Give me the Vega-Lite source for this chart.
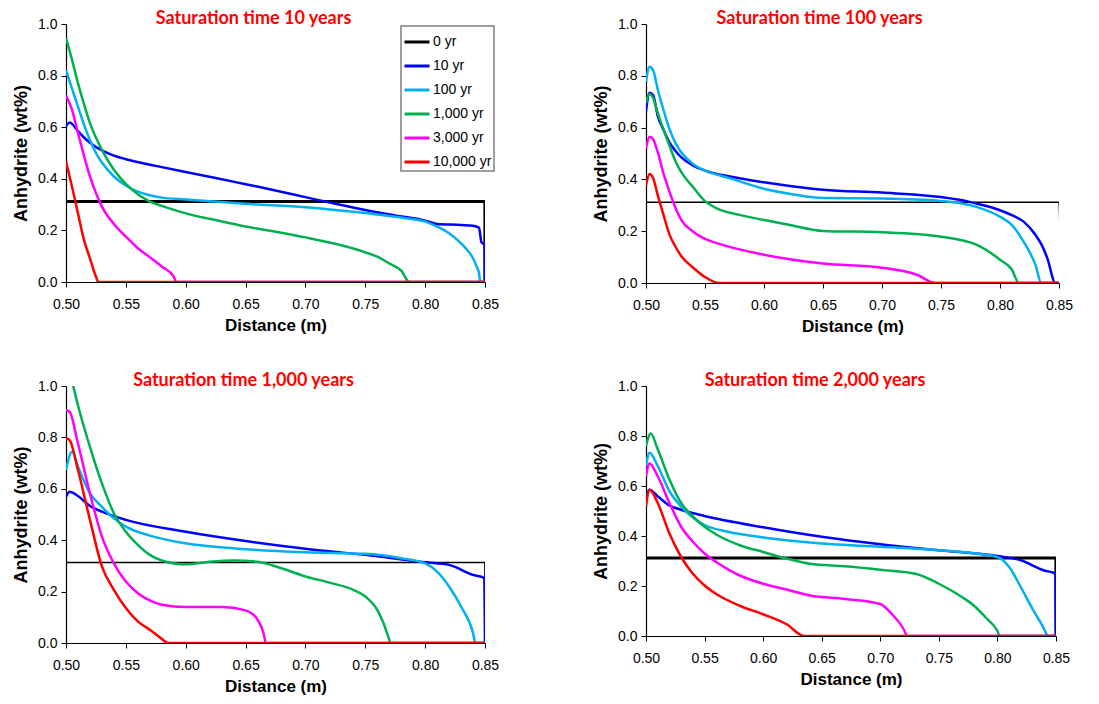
{
  "$schema": "https://vega.github.io/schema/vega-lite/v6.json",
  "padding": {"left": 12, "top": 10, "right": 5, "bottom": 5},
  "background": "white",
  "config": {
    "view": {"stroke": null},
    "axis": {"grid": false, "labelFont": "Liberation Sans", "labelFontSize": 14, "labelColor": "#000000", "titleFont": "Liberation Sans", "titleFontSize": 17, "titleFontWeight": "bold", "titleColor": "#000000", "domainColor": "#000000", "tickColor": "#000000", "tickSize": 5, "labelFlush": false, "labelOverlap": false, "domainWidth": 1.2},
    "axisX": {"labelPadding": 10, "titlePadding": 6},
    "axisY": {"labelPadding": 4, "titlePadding": 7, "titleFontSize": 18},
    "title": {"font": "Lato", "fontSize": 18, "fontWeight": "bold", "color": "#FF0000", "anchor": "middle", "offset": -11},
    "legend": {"orient": "none", "legendX": 335, "legendY": 2, "strokeColor": "#808080", "strokeWidth": 1.5, "fillColor": "#FFFFFF", "padding": 2, "symbolType": "stroke", "symbolSize": 625, "symbolStrokeWidth": 3, "labelFont": "Liberation Sans", "labelFontSize": 14, "labelColor": "#000000", "rowPadding": 3, "labelOffset": 2}
  },
  "datasets": {
    "d": [
      {"panel":1,"series":"0 yr","distance":0.5,"anhydrite":0.312},
      {"panel":1,"series":"0 yr","distance":0.8499,"anhydrite":0.312},
      {"panel":1,"series":"0 yr","distance":0.85,"anhydrite":0},
      {"panel":1,"series":"10 yr","distance":0.5,"anhydrite":0.603},
      {"panel":1,"series":"10 yr","distance":0.503,"anhydrite":0.618},
      {"panel":1,"series":"10 yr","distance":0.51,"anhydrite":0.585},
      {"panel":1,"series":"10 yr","distance":0.515,"anhydrite":0.56},
      {"panel":1,"series":"10 yr","distance":0.52,"anhydrite":0.54},
      {"panel":1,"series":"10 yr","distance":0.53,"anhydrite":0.51},
      {"panel":1,"series":"10 yr","distance":0.54,"anhydrite":0.49},
      {"panel":1,"series":"10 yr","distance":0.55,"anhydrite":0.476},
      {"panel":1,"series":"10 yr","distance":0.575,"anhydrite":0.45},
      {"panel":1,"series":"10 yr","distance":0.6,"anhydrite":0.426},
      {"panel":1,"series":"10 yr","distance":0.625,"anhydrite":0.403},
      {"panel":1,"series":"10 yr","distance":0.65,"anhydrite":0.379},
      {"panel":1,"series":"10 yr","distance":0.675,"anhydrite":0.355},
      {"panel":1,"series":"10 yr","distance":0.7,"anhydrite":0.329},
      {"panel":1,"series":"10 yr","distance":0.725,"anhydrite":0.303},
      {"panel":1,"series":"10 yr","distance":0.75,"anhydrite":0.279},
      {"panel":1,"series":"10 yr","distance":0.775,"anhydrite":0.258},
      {"panel":1,"series":"10 yr","distance":0.8,"anhydrite":0.238},
      {"panel":1,"series":"10 yr","distance":0.81,"anhydrite":0.225},
      {"panel":1,"series":"10 yr","distance":0.83,"anhydrite":0.221},
      {"panel":1,"series":"10 yr","distance":0.84,"anhydrite":0.218},
      {"panel":1,"series":"10 yr","distance":0.845,"anhydrite":0.21},
      {"panel":1,"series":"10 yr","distance":0.847,"anhydrite":0.155},
      {"panel":1,"series":"10 yr","distance":0.8495,"anhydrite":0.144},
      {"panel":1,"series":"10 yr","distance":0.85,"anhydrite":0},
      {"panel":1,"series":"100 yr","distance":0.5,"anhydrite":0.821},
      {"panel":1,"series":"100 yr","distance":0.505,"anhydrite":0.75},
      {"panel":1,"series":"100 yr","distance":0.51,"anhydrite":0.68},
      {"panel":1,"series":"100 yr","distance":0.515,"anhydrite":0.61},
      {"panel":1,"series":"100 yr","distance":0.52,"anhydrite":0.55},
      {"panel":1,"series":"100 yr","distance":0.525,"anhydrite":0.5},
      {"panel":1,"series":"100 yr","distance":0.53,"anhydrite":0.463},
      {"panel":1,"series":"100 yr","distance":0.54,"anhydrite":0.409},
      {"panel":1,"series":"100 yr","distance":0.55,"anhydrite":0.374},
      {"panel":1,"series":"100 yr","distance":0.56,"anhydrite":0.35},
      {"panel":1,"series":"100 yr","distance":0.57,"anhydrite":0.336},
      {"panel":1,"series":"100 yr","distance":0.58,"anhydrite":0.327},
      {"panel":1,"series":"100 yr","distance":0.6,"anhydrite":0.32},
      {"panel":1,"series":"100 yr","distance":0.65,"anhydrite":0.303},
      {"panel":1,"series":"100 yr","distance":0.7,"anhydrite":0.29},
      {"panel":1,"series":"100 yr","distance":0.75,"anhydrite":0.267},
      {"panel":1,"series":"100 yr","distance":0.78,"anhydrite":0.25},
      {"panel":1,"series":"100 yr","distance":0.8,"anhydrite":0.234},
      {"panel":1,"series":"100 yr","distance":0.81,"anhydrite":0.215},
      {"panel":1,"series":"100 yr","distance":0.82,"anhydrite":0.189},
      {"panel":1,"series":"100 yr","distance":0.83,"anhydrite":0.15},
      {"panel":1,"series":"100 yr","distance":0.835,"anhydrite":0.125},
      {"panel":1,"series":"100 yr","distance":0.84,"anhydrite":0.092},
      {"panel":1,"series":"100 yr","distance":0.843,"anhydrite":0.06},
      {"panel":1,"series":"100 yr","distance":0.845,"anhydrite":0.034},
      {"panel":1,"series":"100 yr","distance":0.846,"anhydrite":0},
      {"panel":1,"series":"100 yr","distance":0.85,"anhydrite":0},
      {"panel":1,"series":"1,000 yr","distance":0.5,"anhydrite":0.946},
      {"panel":1,"series":"1,000 yr","distance":0.505,"anhydrite":0.862},
      {"panel":1,"series":"1,000 yr","distance":0.51,"anhydrite":0.771},
      {"panel":1,"series":"1,000 yr","distance":0.515,"anhydrite":0.69},
      {"panel":1,"series":"1,000 yr","distance":0.52,"anhydrite":0.616},
      {"panel":1,"series":"1,000 yr","distance":0.525,"anhydrite":0.56},
      {"panel":1,"series":"1,000 yr","distance":0.53,"anhydrite":0.512},
      {"panel":1,"series":"1,000 yr","distance":0.54,"anhydrite":0.435},
      {"panel":1,"series":"1,000 yr","distance":0.55,"anhydrite":0.38},
      {"panel":1,"series":"1,000 yr","distance":0.56,"anhydrite":0.34},
      {"panel":1,"series":"1,000 yr","distance":0.57,"anhydrite":0.312},
      {"panel":1,"series":"1,000 yr","distance":0.58,"anhydrite":0.295},
      {"panel":1,"series":"1,000 yr","distance":0.6,"anhydrite":0.266},
      {"panel":1,"series":"1,000 yr","distance":0.625,"anhydrite":0.24},
      {"panel":1,"series":"1,000 yr","distance":0.65,"anhydrite":0.215},
      {"panel":1,"series":"1,000 yr","distance":0.675,"anhydrite":0.195},
      {"panel":1,"series":"1,000 yr","distance":0.7,"anhydrite":0.173},
      {"panel":1,"series":"1,000 yr","distance":0.725,"anhydrite":0.148},
      {"panel":1,"series":"1,000 yr","distance":0.75,"anhydrite":0.115},
      {"panel":1,"series":"1,000 yr","distance":0.76,"anhydrite":0.098},
      {"panel":1,"series":"1,000 yr","distance":0.77,"anhydrite":0.072},
      {"panel":1,"series":"1,000 yr","distance":0.78,"anhydrite":0.044},
      {"panel":1,"series":"1,000 yr","distance":0.787,"anhydrite":0},
      {"panel":1,"series":"1,000 yr","distance":0.85,"anhydrite":0},
      {"panel":1,"series":"3,000 yr","distance":0.5,"anhydrite":0.723},
      {"panel":1,"series":"3,000 yr","distance":0.505,"anhydrite":0.668},
      {"panel":1,"series":"3,000 yr","distance":0.51,"anhydrite":0.577},
      {"panel":1,"series":"3,000 yr","distance":0.515,"anhydrite":0.49},
      {"panel":1,"series":"3,000 yr","distance":0.52,"anhydrite":0.409},
      {"panel":1,"series":"3,000 yr","distance":0.525,"anhydrite":0.345},
      {"panel":1,"series":"3,000 yr","distance":0.53,"anhydrite":0.292},
      {"panel":1,"series":"3,000 yr","distance":0.54,"anhydrite":0.225},
      {"panel":1,"series":"3,000 yr","distance":0.55,"anhydrite":0.176},
      {"panel":1,"series":"3,000 yr","distance":0.56,"anhydrite":0.131},
      {"panel":1,"series":"3,000 yr","distance":0.57,"anhydrite":0.096},
      {"panel":1,"series":"3,000 yr","distance":0.58,"anhydrite":0.06},
      {"panel":1,"series":"3,000 yr","distance":0.59,"anhydrite":0.021},
      {"panel":1,"series":"3,000 yr","distance":0.592,"anhydrite":0},
      {"panel":1,"series":"3,000 yr","distance":0.85,"anhydrite":0},
      {"panel":1,"series":"10,000 yr","distance":0.5,"anhydrite":0.467},
      {"panel":1,"series":"10,000 yr","distance":0.505,"anhydrite":0.37},
      {"panel":1,"series":"10,000 yr","distance":0.51,"anhydrite":0.266},
      {"panel":1,"series":"10,000 yr","distance":0.515,"anhydrite":0.163},
      {"panel":1,"series":"10,000 yr","distance":0.52,"anhydrite":0.092},
      {"panel":1,"series":"10,000 yr","distance":0.525,"anhydrite":0.021},
      {"panel":1,"series":"10,000 yr","distance":0.527,"anhydrite":0},
      {"panel":1,"series":"10,000 yr","distance":0.85,"anhydrite":0},

      {"panel":2,"series":"0 yr","distance":0.5,"anhydrite":0.312},
      {"panel":2,"series":"0 yr","distance":0.85,"anhydrite":0.312},
      {"panel":2,"series":"0 yr","distance":0.8515,"anhydrite":0},
      {"panel":2,"series":"10 yr","distance":0.5,"anhydrite":0.663},
      {"panel":2,"series":"10 yr","distance":0.503,"anhydrite":0.735},
      {"panel":2,"series":"10 yr","distance":0.506,"anhydrite":0.726},
      {"panel":2,"series":"10 yr","distance":0.51,"anhydrite":0.644},
      {"panel":2,"series":"10 yr","distance":0.515,"anhydrite":0.59},
      {"panel":2,"series":"10 yr","distance":0.52,"anhydrite":0.542},
      {"panel":2,"series":"10 yr","distance":0.525,"anhydrite":0.51},
      {"panel":2,"series":"10 yr","distance":0.53,"anhydrite":0.485},
      {"panel":2,"series":"10 yr","distance":0.54,"anhydrite":0.453},
      {"panel":2,"series":"10 yr","distance":0.55,"anhydrite":0.434},
      {"panel":2,"series":"10 yr","distance":0.57,"anhydrite":0.412},
      {"panel":2,"series":"10 yr","distance":0.6,"anhydrite":0.389},
      {"panel":2,"series":"10 yr","distance":0.625,"anhydrite":0.373},
      {"panel":2,"series":"10 yr","distance":0.65,"anhydrite":0.36},
      {"panel":2,"series":"10 yr","distance":0.7,"anhydrite":0.349},
      {"panel":2,"series":"10 yr","distance":0.75,"anhydrite":0.332},
      {"panel":2,"series":"10 yr","distance":0.77,"anhydrite":0.318},
      {"panel":2,"series":"10 yr","distance":0.78,"anhydrite":0.307},
      {"panel":2,"series":"10 yr","distance":0.8,"anhydrite":0.281},
      {"panel":2,"series":"10 yr","distance":0.81,"anhydrite":0.262},
      {"panel":2,"series":"10 yr","distance":0.82,"anhydrite":0.237},
      {"panel":2,"series":"10 yr","distance":0.83,"anhydrite":0.186},
      {"panel":2,"series":"10 yr","distance":0.835,"anhydrite":0.15},
      {"panel":2,"series":"10 yr","distance":0.84,"anhydrite":0.097},
      {"panel":2,"series":"10 yr","distance":0.847,"anhydrite":0},
      {"panel":2,"series":"10 yr","distance":0.85,"anhydrite":0},
      {"panel":2,"series":"100 yr","distance":0.5,"anhydrite":0.777},
      {"panel":2,"series":"100 yr","distance":0.503,"anhydrite":0.835},
      {"panel":2,"series":"100 yr","distance":0.506,"anhydrite":0.822},
      {"panel":2,"series":"100 yr","distance":0.51,"anhydrite":0.746},
      {"panel":2,"series":"100 yr","distance":0.515,"anhydrite":0.665},
      {"panel":2,"series":"100 yr","distance":0.52,"anhydrite":0.593},
      {"panel":2,"series":"100 yr","distance":0.525,"anhydrite":0.54},
      {"panel":2,"series":"100 yr","distance":0.53,"anhydrite":0.504},
      {"panel":2,"series":"100 yr","distance":0.54,"anhydrite":0.459},
      {"panel":2,"series":"100 yr","distance":0.55,"anhydrite":0.434},
      {"panel":2,"series":"100 yr","distance":0.57,"anhydrite":0.406},
      {"panel":2,"series":"100 yr","distance":0.6,"anhydrite":0.364},
      {"panel":2,"series":"100 yr","distance":0.625,"anhydrite":0.342},
      {"panel":2,"series":"100 yr","distance":0.65,"anhydrite":0.328},
      {"panel":2,"series":"100 yr","distance":0.7,"anhydrite":0.326},
      {"panel":2,"series":"100 yr","distance":0.75,"anhydrite":0.317},
      {"panel":2,"series":"100 yr","distance":0.78,"anhydrite":0.294},
      {"panel":2,"series":"100 yr","distance":0.8,"anhydrite":0.256},
      {"panel":2,"series":"100 yr","distance":0.81,"anhydrite":0.224},
      {"panel":2,"series":"100 yr","distance":0.82,"anhydrite":0.16},
      {"panel":2,"series":"100 yr","distance":0.825,"anhydrite":0.12},
      {"panel":2,"series":"100 yr","distance":0.83,"anhydrite":0.071},
      {"panel":2,"series":"100 yr","distance":0.835,"anhydrite":0},
      {"panel":2,"series":"100 yr","distance":0.85,"anhydrite":0},
      {"panel":2,"series":"1,000 yr","distance":0.5,"anhydrite":0.695},
      {"panel":2,"series":"1,000 yr","distance":0.503,"anhydrite":0.73},
      {"panel":2,"series":"1,000 yr","distance":0.506,"anhydrite":0.715},
      {"panel":2,"series":"1,000 yr","distance":0.51,"anhydrite":0.656},
      {"panel":2,"series":"1,000 yr","distance":0.515,"anhydrite":0.59},
      {"panel":2,"series":"1,000 yr","distance":0.52,"anhydrite":0.529},
      {"panel":2,"series":"1,000 yr","distance":0.525,"anhydrite":0.47},
      {"panel":2,"series":"1,000 yr","distance":0.53,"anhydrite":0.427},
      {"panel":2,"series":"1,000 yr","distance":0.54,"anhydrite":0.37},
      {"panel":2,"series":"1,000 yr","distance":0.55,"anhydrite":0.316},
      {"panel":2,"series":"1,000 yr","distance":0.56,"anhydrite":0.288},
      {"panel":2,"series":"1,000 yr","distance":0.58,"anhydrite":0.262},
      {"panel":2,"series":"1,000 yr","distance":0.6,"anhydrite":0.243},
      {"panel":2,"series":"1,000 yr","distance":0.62,"anhydrite":0.226},
      {"panel":2,"series":"1,000 yr","distance":0.65,"anhydrite":0.201},
      {"panel":2,"series":"1,000 yr","distance":0.7,"anhydrite":0.196},
      {"panel":2,"series":"1,000 yr","distance":0.75,"anhydrite":0.179},
      {"panel":2,"series":"1,000 yr","distance":0.78,"anhydrite":0.148},
      {"panel":2,"series":"1,000 yr","distance":0.8,"anhydrite":0.09},
      {"panel":2,"series":"1,000 yr","distance":0.81,"anhydrite":0.052},
      {"panel":2,"series":"1,000 yr","distance":0.816,"anhydrite":0},
      {"panel":2,"series":"1,000 yr","distance":0.85,"anhydrite":0},
      {"panel":2,"series":"3,000 yr","distance":0.5,"anhydrite":0.52},
      {"panel":2,"series":"3,000 yr","distance":0.503,"anhydrite":0.565},
      {"panel":2,"series":"3,000 yr","distance":0.506,"anhydrite":0.555},
      {"panel":2,"series":"3,000 yr","distance":0.51,"anhydrite":0.504},
      {"panel":2,"series":"3,000 yr","distance":0.515,"anhydrite":0.42},
      {"panel":2,"series":"3,000 yr","distance":0.52,"anhydrite":0.351},
      {"panel":2,"series":"3,000 yr","distance":0.525,"anhydrite":0.29},
      {"panel":2,"series":"3,000 yr","distance":0.53,"anhydrite":0.243},
      {"panel":2,"series":"3,000 yr","distance":0.54,"anhydrite":0.198},
      {"panel":2,"series":"3,000 yr","distance":0.55,"anhydrite":0.17},
      {"panel":2,"series":"3,000 yr","distance":0.56,"anhydrite":0.154},
      {"panel":2,"series":"3,000 yr","distance":0.6,"anhydrite":0.109},
      {"panel":2,"series":"3,000 yr","distance":0.65,"anhydrite":0.075},
      {"panel":2,"series":"3,000 yr","distance":0.7,"anhydrite":0.059},
      {"panel":2,"series":"3,000 yr","distance":0.73,"anhydrite":0.031},
      {"panel":2,"series":"3,000 yr","distance":0.745,"anhydrite":0},
      {"panel":2,"series":"3,000 yr","distance":0.85,"anhydrite":0},
      {"panel":2,"series":"10,000 yr","distance":0.5,"anhydrite":0.377},
      {"panel":2,"series":"10,000 yr","distance":0.503,"anhydrite":0.421},
      {"panel":2,"series":"10,000 yr","distance":0.506,"anhydrite":0.405},
      {"panel":2,"series":"10,000 yr","distance":0.51,"anhydrite":0.338},
      {"panel":2,"series":"10,000 yr","distance":0.515,"anhydrite":0.26},
      {"panel":2,"series":"10,000 yr","distance":0.52,"anhydrite":0.186},
      {"panel":2,"series":"10,000 yr","distance":0.525,"anhydrite":0.14},
      {"panel":2,"series":"10,000 yr","distance":0.53,"anhydrite":0.103},
      {"panel":2,"series":"10,000 yr","distance":0.54,"anhydrite":0.059},
      {"panel":2,"series":"10,000 yr","distance":0.55,"anhydrite":0.023},
      {"panel":2,"series":"10,000 yr","distance":0.562,"anhydrite":0},
      {"panel":2,"series":"10,000 yr","distance":0.85,"anhydrite":0},

      {"panel":3,"series":"0 yr","distance":0.5,"anhydrite":0.313},
      {"panel":3,"series":"0 yr","distance":0.8499,"anhydrite":0.313},
      {"panel":3,"series":"0 yr","distance":0.85,"anhydrite":0},
      {"panel":3,"series":"10 yr","distance":0.5,"anhydrite":0.569},
      {"panel":3,"series":"10 yr","distance":0.503,"anhydrite":0.589},
      {"panel":3,"series":"10 yr","distance":0.51,"anhydrite":0.572},
      {"panel":3,"series":"10 yr","distance":0.52,"anhydrite":0.533},
      {"panel":3,"series":"10 yr","distance":0.53,"anhydrite":0.511},
      {"panel":3,"series":"10 yr","distance":0.55,"anhydrite":0.479},
      {"panel":3,"series":"10 yr","distance":0.6,"anhydrite":0.433},
      {"panel":3,"series":"10 yr","distance":0.65,"anhydrite":0.397},
      {"panel":3,"series":"10 yr","distance":0.7,"anhydrite":0.367},
      {"panel":3,"series":"10 yr","distance":0.75,"anhydrite":0.343},
      {"panel":3,"series":"10 yr","distance":0.8,"anhydrite":0.314},
      {"panel":3,"series":"10 yr","distance":0.82,"anhydrite":0.304},
      {"panel":3,"series":"10 yr","distance":0.84,"anhydrite":0.265},
      {"panel":3,"series":"10 yr","distance":0.848,"anhydrite":0.256},
      {"panel":3,"series":"10 yr","distance":0.8495,"anhydrite":0.25},
      {"panel":3,"series":"10 yr","distance":0.85,"anhydrite":0},
      {"panel":3,"series":"100 yr","distance":0.5,"anhydrite":0.673},
      {"panel":3,"series":"100 yr","distance":0.505,"anhydrite":0.744},
      {"panel":3,"series":"100 yr","distance":0.51,"anhydrite":0.686},
      {"panel":3,"series":"100 yr","distance":0.52,"anhydrite":0.582},
      {"panel":3,"series":"100 yr","distance":0.53,"anhydrite":0.53},
      {"panel":3,"series":"100 yr","distance":0.54,"anhydrite":0.485},
      {"panel":3,"series":"100 yr","distance":0.55,"anhydrite":0.453},
      {"panel":3,"series":"100 yr","distance":0.57,"anhydrite":0.418},
      {"panel":3,"series":"100 yr","distance":0.6,"anhydrite":0.388},
      {"panel":3,"series":"100 yr","distance":0.65,"anhydrite":0.365},
      {"panel":3,"series":"100 yr","distance":0.7,"anhydrite":0.353},
      {"panel":3,"series":"100 yr","distance":0.75,"anhydrite":0.347},
      {"panel":3,"series":"100 yr","distance":0.78,"anhydrite":0.33},
      {"panel":3,"series":"100 yr","distance":0.8,"anhydrite":0.31},
      {"panel":3,"series":"100 yr","distance":0.81,"anhydrite":0.278},
      {"panel":3,"series":"100 yr","distance":0.82,"anhydrite":0.22},
      {"panel":3,"series":"100 yr","distance":0.83,"anhydrite":0.142},
      {"panel":3,"series":"100 yr","distance":0.84,"anhydrite":0.039},
      {"panel":3,"series":"100 yr","distance":0.842,"anhydrite":0},
      {"panel":3,"series":"100 yr","distance":0.85,"anhydrite":0},
      {"panel":3,"series":"1,000 yr","distance":0.5,"anhydrite":1.1},
      {"panel":3,"series":"1,000 yr","distance":0.506,"anhydrite":1.0},
      {"panel":3,"series":"1,000 yr","distance":0.51,"anhydrite":0.925},
      {"panel":3,"series":"1,000 yr","distance":0.52,"anhydrite":0.763},
      {"panel":3,"series":"1,000 yr","distance":0.53,"anhydrite":0.621},
      {"panel":3,"series":"1,000 yr","distance":0.54,"anhydrite":0.505},
      {"panel":3,"series":"1,000 yr","distance":0.55,"anhydrite":0.433},
      {"panel":3,"series":"1,000 yr","distance":0.56,"anhydrite":0.382},
      {"panel":3,"series":"1,000 yr","distance":0.57,"anhydrite":0.343},
      {"panel":3,"series":"1,000 yr","distance":0.58,"anhydrite":0.321},
      {"panel":3,"series":"1,000 yr","distance":0.6,"anhydrite":0.306},
      {"panel":3,"series":"1,000 yr","distance":0.62,"anhydrite":0.316},
      {"panel":3,"series":"1,000 yr","distance":0.64,"anhydrite":0.321},
      {"panel":3,"series":"1,000 yr","distance":0.66,"anhydrite":0.316},
      {"panel":3,"series":"1,000 yr","distance":0.68,"anhydrite":0.291},
      {"panel":3,"series":"1,000 yr","distance":0.7,"anhydrite":0.259},
      {"panel":3,"series":"1,000 yr","distance":0.72,"anhydrite":0.235},
      {"panel":3,"series":"1,000 yr","distance":0.74,"anhydrite":0.207},
      {"panel":3,"series":"1,000 yr","distance":0.75,"anhydrite":0.181},
      {"panel":3,"series":"1,000 yr","distance":0.76,"anhydrite":0.129},
      {"panel":3,"series":"1,000 yr","distance":0.765,"anhydrite":0.08},
      {"panel":3,"series":"1,000 yr","distance":0.77,"anhydrite":0.013},
      {"panel":3,"series":"1,000 yr","distance":0.771,"anhydrite":0},
      {"panel":3,"series":"1,000 yr","distance":0.85,"anhydrite":0},
      {"panel":3,"series":"3,000 yr","distance":0.5,"anhydrite":0.906},
      {"panel":3,"series":"3,000 yr","distance":0.503,"anhydrite":0.9},
      {"panel":3,"series":"3,000 yr","distance":0.51,"anhydrite":0.776},
      {"panel":3,"series":"3,000 yr","distance":0.52,"anhydrite":0.582},
      {"panel":3,"series":"3,000 yr","distance":0.53,"anhydrite":0.414},
      {"panel":3,"series":"3,000 yr","distance":0.54,"anhydrite":0.31},
      {"panel":3,"series":"3,000 yr","distance":0.55,"anhydrite":0.239},
      {"panel":3,"series":"3,000 yr","distance":0.56,"anhydrite":0.194},
      {"panel":3,"series":"3,000 yr","distance":0.57,"anhydrite":0.166},
      {"panel":3,"series":"3,000 yr","distance":0.58,"anhydrite":0.149},
      {"panel":3,"series":"3,000 yr","distance":0.6,"anhydrite":0.14},
      {"panel":3,"series":"3,000 yr","distance":0.63,"anhydrite":0.14},
      {"panel":3,"series":"3,000 yr","distance":0.65,"anhydrite":0.127},
      {"panel":3,"series":"3,000 yr","distance":0.66,"anhydrite":0.091},
      {"panel":3,"series":"3,000 yr","distance":0.665,"anhydrite":0.039},
      {"panel":3,"series":"3,000 yr","distance":0.667,"anhydrite":0},
      {"panel":3,"series":"3,000 yr","distance":0.85,"anhydrite":0},
      {"panel":3,"series":"10,000 yr","distance":0.5,"anhydrite":0.796},
      {"panel":3,"series":"10,000 yr","distance":0.503,"anhydrite":0.789},
      {"panel":3,"series":"10,000 yr","distance":0.51,"anhydrite":0.673},
      {"panel":3,"series":"10,000 yr","distance":0.52,"anhydrite":0.479},
      {"panel":3,"series":"10,000 yr","distance":0.53,"anhydrite":0.298},
      {"panel":3,"series":"10,000 yr","distance":0.54,"anhydrite":0.207},
      {"panel":3,"series":"10,000 yr","distance":0.55,"anhydrite":0.136},
      {"panel":3,"series":"10,000 yr","distance":0.56,"anhydrite":0.084},
      {"panel":3,"series":"10,000 yr","distance":0.57,"anhydrite":0.052},
      {"panel":3,"series":"10,000 yr","distance":0.58,"anhydrite":0.016},
      {"panel":3,"series":"10,000 yr","distance":0.585,"anhydrite":0},
      {"panel":3,"series":"10,000 yr","distance":0.85,"anhydrite":0},

      {"panel":4,"series":"0 yr","distance":0.5,"anhydrite":0.312},
      {"panel":4,"series":"0 yr","distance":0.8499,"anhydrite":0.312},
      {"panel":4,"series":"0 yr","distance":0.85,"anhydrite":0},
      {"panel":4,"series":"10 yr","distance":0.5,"anhydrite":0.559},
      {"panel":4,"series":"10 yr","distance":0.503,"anhydrite":0.585},
      {"panel":4,"series":"10 yr","distance":0.51,"anhydrite":0.559},
      {"panel":4,"series":"10 yr","distance":0.52,"anhydrite":0.522},
      {"panel":4,"series":"10 yr","distance":0.53,"anhydrite":0.505},
      {"panel":4,"series":"10 yr","distance":0.55,"anhydrite":0.48},
      {"panel":4,"series":"10 yr","distance":0.6,"anhydrite":0.435},
      {"panel":4,"series":"10 yr","distance":0.65,"anhydrite":0.397},
      {"panel":4,"series":"10 yr","distance":0.7,"anhydrite":0.367},
      {"panel":4,"series":"10 yr","distance":0.75,"anhydrite":0.343},
      {"panel":4,"series":"10 yr","distance":0.8,"anhydrite":0.32},
      {"panel":4,"series":"10 yr","distance":0.82,"anhydrite":0.303},
      {"panel":4,"series":"10 yr","distance":0.84,"anhydrite":0.262},
      {"panel":4,"series":"10 yr","distance":0.848,"anhydrite":0.253},
      {"panel":4,"series":"10 yr","distance":0.8495,"anhydrite":0.25},
      {"panel":4,"series":"10 yr","distance":0.85,"anhydrite":0},
      {"panel":4,"series":"100 yr","distance":0.5,"anhydrite":0.68},
      {"panel":4,"series":"100 yr","distance":0.503,"anhydrite":0.733},
      {"panel":4,"series":"100 yr","distance":0.51,"anhydrite":0.68},
      {"panel":4,"series":"100 yr","distance":0.52,"anhydrite":0.579},
      {"panel":4,"series":"100 yr","distance":0.53,"anhydrite":0.518},
      {"panel":4,"series":"100 yr","distance":0.54,"anhydrite":0.474},
      {"panel":4,"series":"100 yr","distance":0.55,"anhydrite":0.444},
      {"panel":4,"series":"100 yr","distance":0.57,"anhydrite":0.417},
      {"panel":4,"series":"100 yr","distance":0.6,"anhydrite":0.394},
      {"panel":4,"series":"100 yr","distance":0.65,"anhydrite":0.37},
      {"panel":4,"series":"100 yr","distance":0.7,"anhydrite":0.357},
      {"panel":4,"series":"100 yr","distance":0.75,"anhydrite":0.343},
      {"panel":4,"series":"100 yr","distance":0.77,"anhydrite":0.336},
      {"panel":4,"series":"100 yr","distance":0.8,"anhydrite":0.316},
      {"panel":4,"series":"100 yr","distance":0.81,"anhydrite":0.276},
      {"panel":4,"series":"100 yr","distance":0.82,"anhydrite":0.195},
      {"panel":4,"series":"100 yr","distance":0.83,"anhydrite":0.108},
      {"panel":4,"series":"100 yr","distance":0.84,"anhydrite":0.027},
      {"panel":4,"series":"100 yr","distance":0.843,"anhydrite":0},
      {"panel":4,"series":"100 yr","distance":0.85,"anhydrite":0},
      {"panel":4,"series":"1,000 yr","distance":0.5,"anhydrite":0.76},
      {"panel":4,"series":"1,000 yr","distance":0.504,"anhydrite":0.81},
      {"panel":4,"series":"1,000 yr","distance":0.51,"anhydrite":0.747},
      {"panel":4,"series":"1,000 yr","distance":0.52,"anhydrite":0.626},
      {"panel":4,"series":"1,000 yr","distance":0.53,"anhydrite":0.532},
      {"panel":4,"series":"1,000 yr","distance":0.54,"anhydrite":0.478},
      {"panel":4,"series":"1,000 yr","distance":0.55,"anhydrite":0.437},
      {"panel":4,"series":"1,000 yr","distance":0.56,"anhydrite":0.406},
      {"panel":4,"series":"1,000 yr","distance":0.58,"anhydrite":0.363},
      {"panel":4,"series":"1,000 yr","distance":0.6,"anhydrite":0.336},
      {"panel":4,"series":"1,000 yr","distance":0.62,"anhydrite":0.31},
      {"panel":4,"series":"1,000 yr","distance":0.64,"anhydrite":0.289},
      {"panel":4,"series":"1,000 yr","distance":0.67,"anhydrite":0.279},
      {"panel":4,"series":"1,000 yr","distance":0.7,"anhydrite":0.265},
      {"panel":4,"series":"1,000 yr","distance":0.73,"anhydrite":0.249},
      {"panel":4,"series":"1,000 yr","distance":0.75,"anhydrite":0.209},
      {"panel":4,"series":"1,000 yr","distance":0.77,"anhydrite":0.155},
      {"panel":4,"series":"1,000 yr","distance":0.78,"anhydrite":0.121},
      {"panel":4,"series":"1,000 yr","distance":0.79,"anhydrite":0.074},
      {"panel":4,"series":"1,000 yr","distance":0.8,"anhydrite":0.02},
      {"panel":4,"series":"1,000 yr","distance":0.802,"anhydrite":0},
      {"panel":4,"series":"1,000 yr","distance":0.85,"anhydrite":0},
      {"panel":4,"series":"3,000 yr","distance":0.5,"anhydrite":0.639},
      {"panel":4,"series":"3,000 yr","distance":0.503,"anhydrite":0.69},
      {"panel":4,"series":"3,000 yr","distance":0.51,"anhydrite":0.639},
      {"panel":4,"series":"3,000 yr","distance":0.52,"anhydrite":0.532},
      {"panel":4,"series":"3,000 yr","distance":0.53,"anhydrite":0.437},
      {"panel":4,"series":"3,000 yr","distance":0.54,"anhydrite":0.377},
      {"panel":4,"series":"3,000 yr","distance":0.55,"anhydrite":0.33},
      {"panel":4,"series":"3,000 yr","distance":0.56,"anhydrite":0.296},
      {"panel":4,"series":"3,000 yr","distance":0.58,"anhydrite":0.242},
      {"panel":4,"series":"3,000 yr","distance":0.6,"anhydrite":0.209},
      {"panel":4,"series":"3,000 yr","distance":0.62,"anhydrite":0.186},
      {"panel":4,"series":"3,000 yr","distance":0.64,"anhydrite":0.162},
      {"panel":4,"series":"3,000 yr","distance":0.67,"anhydrite":0.148},
      {"panel":4,"series":"3,000 yr","distance":0.7,"anhydrite":0.128},
      {"panel":4,"series":"3,000 yr","distance":0.71,"anhydrite":0.087},
      {"panel":4,"series":"3,000 yr","distance":0.72,"anhydrite":0.027},
      {"panel":4,"series":"3,000 yr","distance":0.723,"anhydrite":0},
      {"panel":4,"series":"3,000 yr","distance":0.85,"anhydrite":0},
      {"panel":4,"series":"10,000 yr","distance":0.5,"anhydrite":0.518},
      {"panel":4,"series":"10,000 yr","distance":0.503,"anhydrite":0.585},
      {"panel":4,"series":"10,000 yr","distance":0.51,"anhydrite":0.532},
      {"panel":4,"series":"10,000 yr","distance":0.52,"anhydrite":0.41},
      {"panel":4,"series":"10,000 yr","distance":0.53,"anhydrite":0.316},
      {"panel":4,"series":"10,000 yr","distance":0.54,"anhydrite":0.249},
      {"panel":4,"series":"10,000 yr","distance":0.55,"anhydrite":0.202},
      {"panel":4,"series":"10,000 yr","distance":0.56,"anhydrite":0.168},
      {"panel":4,"series":"10,000 yr","distance":0.58,"anhydrite":0.121},
      {"panel":4,"series":"10,000 yr","distance":0.6,"anhydrite":0.087},
      {"panel":4,"series":"10,000 yr","distance":0.62,"anhydrite":0.047},
      {"panel":4,"series":"10,000 yr","distance":0.635,"anhydrite":0},
      {"panel":4,"series":"10,000 yr","distance":0.85,"anhydrite":0}
    ]
  },
  "resolve": {"scale": {"color": "independent"}, "legend": {"color": "independent"}},
  "spacing": 38,
  "vconcat": [
    {
      "resolve": {"scale": {"color": "independent"}, "legend": {"color": "independent"}},
      "spacing": 93,
      "hconcat": [
        {
          "width": 419, "height": 258,
          "title": {"text": "Saturation time 10 years", "dx": -22},
          "data": {"name": "d"},
          "transform": [{"filter": "datum.panel == 1"}],
          "encoding": {
            "x": {"field": "distance", "type": "quantitative", "scale": {"domain": [0.5, 0.85], "nice": false, "zero": false}, "axis": {"title": "Distance (m)", "values": [0.5, 0.55, 0.6, 0.65, 0.7, 0.75, 0.8, 0.85], "format": ".2f"}},
            "y": {"field": "anhydrite", "type": "quantitative", "scale": {"domain": [0, 1], "nice": false}, "axis": {"title": "Anhydrite (wt%)", "values": [0, 0.2, 0.4, 0.6, 0.8, 1], "format": ".1f"}},
            "color": {"field": "series", "type": "nominal", "scale": {"domain": ["0 yr", "10 yr", "100 yr", "1,000 yr", "3,000 yr", "10,000 yr"], "range": ["#000000", "#0000FF", "#00B0F0", "#00B050", "#FF00FF", "#FF0000"]}, "legend": {"title": null}}
          },
          "layer": [
            {"transform": [{"filter": "datum.series == '0 yr'"}], "mark": {"type": "line", "strokeWidth": 3, "clip": true, "interpolate": "monotone"}},
            {"transform": [{"filter": "datum.series != '0 yr'"}], "mark": {"type": "line", "strokeWidth": 2.5, "clip": true, "interpolate": "monotone"}}
          ]
        },
        {
          "width": 413, "height": 259,
          "title": {"text": "Saturation time 100 years", "dx": -33},
          "data": {"name": "d"},
          "transform": [{"filter": "datum.panel == 2"}],
          "encoding": {
            "x": {"field": "distance", "type": "quantitative", "scale": {"domain": [0.5, 0.85], "nice": false, "zero": false}, "axis": {"title": "Distance (m)", "values": [0.5, 0.55, 0.6, 0.65, 0.7, 0.75, 0.8, 0.85], "format": ".2f"}},
            "y": {"field": "anhydrite", "type": "quantitative", "scale": {"domain": [0, 1], "nice": false}, "axis": {"title": "Anhydrite (wt%)", "values": [0, 0.2, 0.4, 0.6, 0.8, 1], "format": ".1f"}},
            "color": {"field": "series", "type": "nominal", "scale": {"domain": ["0 yr", "10 yr", "100 yr", "1,000 yr", "3,000 yr", "10,000 yr"], "range": ["#000000", "#0000FF", "#00B0F0", "#00B050", "#FF00FF", "#FF0000"]}, "legend": null}
          },
          "layer": [
            {"transform": [{"filter": "datum.series == '0 yr'"}], "mark": {"type": "line", "strokeWidth": 1.5, "clip": true, "interpolate": "monotone"}},
            {"transform": [{"filter": "datum.series != '0 yr'"}], "mark": {"type": "line", "strokeWidth": 2.5, "clip": true, "interpolate": "monotone"}}
          ]
        }
      ]
    },
    {
      "resolve": {"scale": {"color": "independent"}, "legend": {"color": "independent"}},
      "spacing": 93,
      "hconcat": [
        {
          "width": 419, "height": 257,
          "title": {"text": "Saturation time 1,000 years", "dx": -32},
          "data": {"name": "d"},
          "transform": [{"filter": "datum.panel == 3"}],
          "encoding": {
            "x": {"field": "distance", "type": "quantitative", "scale": {"domain": [0.5, 0.85], "nice": false, "zero": false}, "axis": {"title": "Distance (m)", "values": [0.5, 0.55, 0.6, 0.65, 0.7, 0.75, 0.8, 0.85], "format": ".2f"}},
            "y": {"field": "anhydrite", "type": "quantitative", "scale": {"domain": [0, 1], "nice": false}, "axis": {"title": "Anhydrite (wt%)", "values": [0, 0.2, 0.4, 0.6, 0.8, 1], "format": ".1f"}},
            "color": {"field": "series", "type": "nominal", "scale": {"domain": ["0 yr", "10 yr", "100 yr", "1,000 yr", "3,000 yr", "10,000 yr"], "range": ["#000000", "#0000FF", "#00B0F0", "#00B050", "#FF00FF", "#FF0000"]}, "legend": null}
          },
          "layer": [
            {"transform": [{"filter": "datum.series == '0 yr'"}], "mark": {"type": "line", "strokeWidth": 1.5, "clip": true, "interpolate": "monotone"}},
            {"transform": [{"filter": "datum.series != '0 yr'"}], "mark": {"type": "line", "strokeWidth": 2.5, "clip": true, "interpolate": "monotone"}}
          ]
        },
        {
          "width": 410, "height": 250,
          "title": {"text": "Saturation time 2,000 years", "dx": -36},
          "data": {"name": "d"},
          "transform": [{"filter": "datum.panel == 4"}],
          "encoding": {
            "x": {"field": "distance", "type": "quantitative", "scale": {"domain": [0.5, 0.85], "nice": false, "zero": false}, "axis": {"title": "Distance (m)", "values": [0.5, 0.55, 0.6, 0.65, 0.7, 0.75, 0.8, 0.85], "format": ".2f"}},
            "y": {"field": "anhydrite", "type": "quantitative", "scale": {"domain": [0, 1], "nice": false}, "axis": {"title": "Anhydrite (wt%)", "values": [0, 0.2, 0.4, 0.6, 0.8, 1], "format": ".1f"}},
            "color": {"field": "series", "type": "nominal", "scale": {"domain": ["0 yr", "10 yr", "100 yr", "1,000 yr", "3,000 yr", "10,000 yr"], "range": ["#000000", "#0000FF", "#00B0F0", "#00B050", "#FF00FF", "#FF0000"]}, "legend": null}
          },
          "layer": [
            {"transform": [{"filter": "datum.series == '0 yr'"}], "mark": {"type": "line", "strokeWidth": 3, "clip": true, "interpolate": "monotone"}},
            {"transform": [{"filter": "datum.series != '0 yr'"}], "mark": {"type": "line", "strokeWidth": 2.5, "clip": true, "interpolate": "monotone"}}
          ]
        }
      ]
    }
  ]
}
